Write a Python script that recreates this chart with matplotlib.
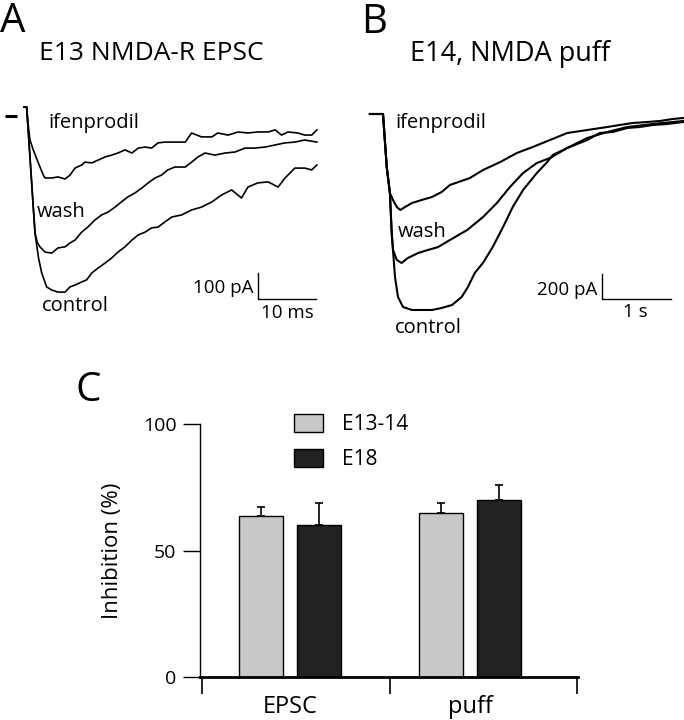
import matplotlib
matplotlib.use('Agg')
import matplotlib.pyplot as plt
from matplotlib.patches import Patch
import numpy as np

plt.rcParams['font.family'] = ['Open Sans', 'DejaVu Sans']

# --- panel A: E13 NMDA-R EPSC, time in ms, current in pA
a_ifen_t = [0, 0.45, 0.75, 1.03, 1.6, 2.47, 3.33, 3.62, 4.78, 5.86, 7.07, 7.93, 8.79, 9.95, 10.5,
            11.7, 12.8, 14.0, 15.1, 16.2, 17.4, 18.6, 19.7, 20.9, 22.0, 23.1, 24.3, 26.0, 27.8,
            28.9, 30.6, 32.4, 33.4, 35.2, 36.9, 38.6, 40.3, 42.1, 43.3, 44.4, 45.5, 47.2, 48.4,
            49.6, 50.5]
a_ifen_i = [0, 0, -75, -127, -165, -215, -262, -273, -273, -269, -277, -262, -235, -223, -212,
            -215, -204, -192, -185, -177, -165, -177, -158, -154, -158, -138, -135, -135, -135,
            -100, -115, -115, -100, -108, -96, -100, -96, -96, -88, -108, -96, -100, -108,
            -108, -88]
a_wash_t = [0, 0.45, 1.03, 1.55, 1.9, 2.3, 2.76, 3.62, 4.78, 5.86, 7.07, 7.93, 8.79, 9.95, 11.0,
            12.2, 13.4, 14.5, 15.7, 16.8, 17.9, 19.1, 20.3, 21.4, 22.6, 23.7, 24.8, 26.0, 27.8,
            28.9, 30.0, 31.2, 32.9, 34.7, 36.4, 38.1, 39.8, 41.6, 43.3, 45.0, 46.7, 48.4, 50.5]
a_wash_i = [0, 0, -192, -369, -485, -522, -538, -558, -562, -542, -538, -523, -512, -481, -462,
            -435, -415, -404, -385, -365, -346, -331, -312, -292, -273, -262, -242, -231, -231,
            -212, -192, -177, -185, -177, -173, -158, -158, -154, -146, -138, -135, -127, -135]
a_ctrl_t = [0, 0.45, 1.03, 1.55, 1.9, 2.5, 3.05, 3.9, 4.78, 5.86, 7.07, 7.93, 8.79, 9.95, 10.8,
            11.7, 12.8, 14.0, 15.1, 16.2, 17.4, 18.6, 19.7, 20.9, 22.0, 23.1, 24.3, 25.5, 27.2,
            28.9, 30.6, 32.4, 34.1, 35.8, 37.5, 38.6, 40.3, 42.1, 43.8, 45.0, 46.7, 48.4, 49.6,
            50.5]
a_ctrl_i = [0, 0, -192, -369, -485, -580, -638, -692, -704, -712, -712, -692, -685, -673, -665,
            -638, -619, -600, -581, -558, -538, -512, -492, -481, -465, -462, -442, -423, -415,
            -396, -385, -365, -338, -319, -350, -308, -292, -288, -308, -273, -235, -235, -242,
            -223]
a_base_t = [-3.28, -1.21]
a_base_i = [-35, -35]

# --- panel B: E14 NMDA puff, time in s, current in pA
b_ifen_t = [-0.19, 0, 0.054, 0.10, 0.145, 0.20, 0.25, 0.32, 0.42, 0.56, 0.71, 0.85, 0.97, 1.26,
            1.45, 1.70, 1.94, 2.17, 2.42, 2.67, 2.96, 3.25, 3.43, 3.62, 3.83, 4.01, 4.20, 4.35]
b_ifen_i = [0, 0, -424, -632, -688, -744, -768, -744, -712, -688, -664, -624, -568, -512,
            -448, -384, -312, -264, -208, -152, -128, -104, -88, -72, -64, -56, -40, -32]
b_wash_t = [-0.19, 0, 0.054, 0.10, 0.126, 0.145, 0.20, 0.27, 0.36, 0.51, 0.65, 0.80, 0.97, 1.22,
            1.45, 1.65, 1.84, 2.03, 2.23, 2.42, 2.67, 2.96, 3.14, 3.33, 3.54, 3.72, 3.91, 4.12,
            4.35]
b_wash_i = [0, 0, -424, -632, -952, -1088, -1168, -1192, -1152, -1112, -1088, -1064, -1008, -928,
            -824, -712, -584, -472, -392, -352, -272, -208, -152, -144, -112, -104, -88, -80,
            -64]
b_ctrl_t = [-0.19, 0, 0.054, 0.10, 0.126, 0.174, 0.217, 0.29, 0.42, 0.56, 0.71, 0.85, 1.0, 1.14,
            1.23, 1.33, 1.45, 1.59, 1.74, 1.88, 2.03, 2.23, 2.38, 2.46, 2.67, 2.96, 3.25, 3.54,
            3.91, 4.35]
b_ctrl_i = [0, 0, -424, -632, -952, -1304, -1464, -1544, -1568, -1568, -1568, -1552, -1528, -1464,
            -1384, -1272, -1190, -1064, -904, -744, -608, -472, -384, -328, -272, -192, -144, -104,
            -80, -56]

# --- panel C: % inhibition by ifenprodil
groups = ['EPSC', 'puff']
young = [63.6, 64.8]
young_err = [3.6, 4.0]
old = [60.1, 70.0]
old_err = [8.7, 5.9]
series_names = ['E13-14', 'E18']


fig = plt.figure(figsize=(6.84, 7.2), dpi=100)

def scalebar(ax, x0, y0, dx, dy, ylab, xlab, ylab_pos, xlab_pos):
    ax.plot([x0, x0, x0 + dx], [y0 + dy, y0, y0], color='black', lw=1.0, clip_on=False)
    ax.text(ylab_pos[0], ylab_pos[1], ylab, ha='right', va='baseline', fontsize=13.5)
    ax.text(xlab_pos[0], xlab_pos[1], xlab, ha='center', va='baseline', fontsize=13.5)

# A
axA = fig.add_axes([0.0, 0.5556, 0.4825, 0.3194])
axA.set_xlim(-4.138, 52.76)
axA.set_ylim(-819.2, 65.4)
axA.set_axis_off()
for t, i in [(a_ctrl_t, a_ctrl_i), (a_wash_t, a_wash_i), (a_ifen_t, a_ifen_i)]:
    axA.plot(t, i, color='black', lw=1.2, clip_on=False)
axA.plot(a_base_t, a_base_i, color='black', lw=2.2, solid_capstyle='butt')
axA.text(4.14, -80, 'ifenprodil', fontsize=14.5, va='baseline')
axA.text(2.24, -423, 'wash', fontsize=14.5, va='baseline')
axA.text(3.1, -785, 'control', fontsize=14.5, va='baseline')
scalebar(axA, 40.3, -738, 10, 100, '100 pA', '10 ms', (39.5, -715), (45.4, -812))

# B
axB = fig.add_axes([0.5044, 0.5278, 0.4956, 0.3472])
axB.set_xlim(-0.5507, 4.362)
axB.set_ylim(-1808, 192)
axB.set_axis_off()
for t, i in [(b_ctrl_t, b_ctrl_i), (b_wash_t, b_wash_i), (b_ifen_t, b_ifen_i)]:
    axB.plot(t, i, color='black', lw=1.5, clip_on=False)
axB.text(0.174, -110, 'ifenprodil', fontsize=14.5, va='baseline')
axB.text(0.217, -984, 'wash', fontsize=14.5, va='baseline')
axB.text(0.174, -1752, 'control', fontsize=14.5, va='baseline')
scalebar(axB, 3.174, -1480, 1, 200, '200 pA', '1 s', (3.10, -1448), (3.65, -1624))

# titles and panel letters
fig.text(0.2208, 0.9167, 'E13 NMDA-R EPSC', ha='center', va='baseline', fontsize=19)
fig.text(0.7456, 0.9153, 'E14, NMDA puff', ha='center', va='baseline', fontsize=19.5)
fig.text(0.0, 0.9556, 'A', ha='left', va='baseline', fontsize=29)
fig.text(0.528, 0.9542, 'B', ha='left', va='baseline', fontsize=29)
fig.text(0.110, 0.443, 'C', ha='left', va='baseline', fontsize=29)

# C
axC = fig.add_axes([0.2924, 0.0597, 0.5526, 0.3514])
centers = np.array([0.468, 1.43])
w = 0.235
off = 0.156
axC.bar(centers - off, young, w, color='#c8c8c8', edgecolor='black', lw=1.0, zorder=2)
axC.bar(centers + off, old, w, color='#222222', edgecolor='black', lw=1.0, zorder=2)
axC.errorbar(centers - off, young, yerr=[[0, 0], young_err], fmt='none', ecolor='black',
             elinewidth=1.2, capsize=3, capthick=1.2, zorder=1)
axC.errorbar(centers + off, old, yerr=[[0, 0], old_err], fmt='none', ecolor='black',
             elinewidth=1.2, capsize=3, capthick=1.2, zorder=1)
axC.set_xlim(-0.011, 2.005)
axC.set_ylim(0, 100)
axC.spines['top'].set_visible(False)
axC.spines['right'].set_visible(False)
axC.spines['left'].set_linewidth(1.0)
axC.spines['bottom'].set_linewidth(2.0)
axC.set_yticks([0, 50, 100])
axC.tick_params(axis='y', length=12, width=1.0, pad=5, labelsize=14)
axC.set_xticks([0, 1, 2])
axC.set_xticklabels([])
axC.tick_params(axis='x', which='major', length=12, width=1.2, direction='out')
axC.set_xticks(centers, minor=True)
axC.set_xticklabels(groups, minor=True, fontsize=17)
axC.tick_params(axis='x', which='minor', length=0, pad=13)
axC.set_ylabel('Inhibition (%)', fontsize=16, labelpad=14)
handles = [Patch(facecolor='#c8c8c8', edgecolor='black', lw=1.0),
           Patch(facecolor='#222222', edgecolor='black', lw=1.0)]
axC.legend(handles, series_names, loc='upper left', bbox_to_anchor=(0.249, 1.04),
           frameon=False, fontsize=15, handlelength=1.39, handleheight=0.95,
           handletextpad=0.9, labelspacing=0.65, borderpad=0, borderaxespad=0)

fig.savefig('out.png', dpi=100)
